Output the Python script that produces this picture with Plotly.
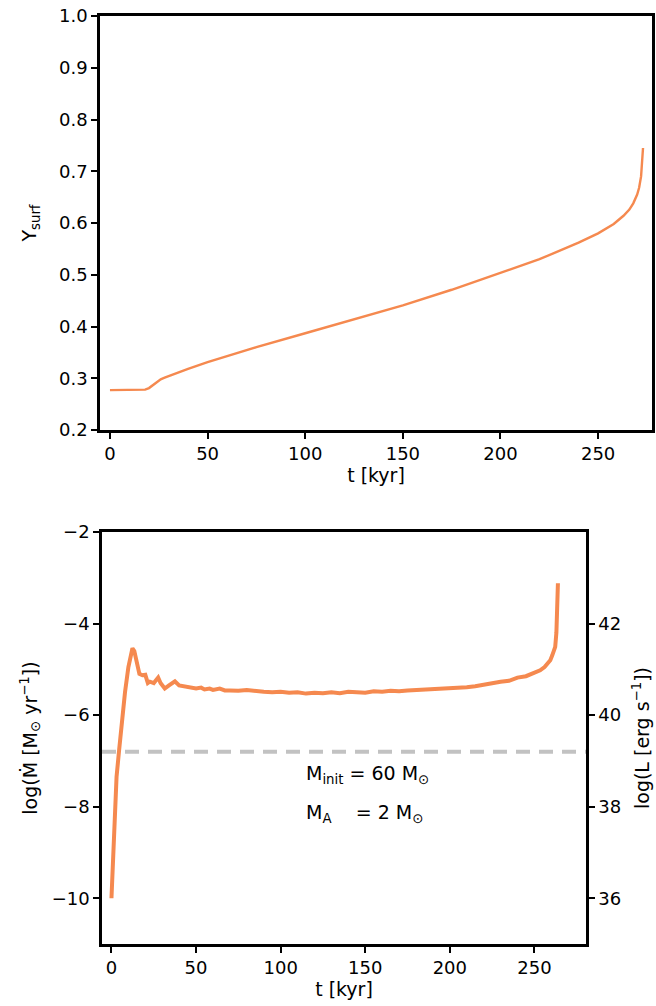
import plotly.graph_objects as go

# ---- data: top panel (surface helium) ----
t_top = [0, 5, 10, 15, 18, 20, 22, 24, 26, 28, 30, 35, 40, 50, 60, 75, 100, 125, 150,
         175, 200, 220, 240, 250, 258, 263, 266, 268, 270, 271, 272, 272.5, 273]
y_surf = [0.277, 0.277, 0.277, 0.277, 0.278, 0.281, 0.287, 0.293, 0.298, 0.301, 0.304,
          0.311, 0.318, 0.331, 0.343, 0.360, 0.387, 0.414, 0.441, 0.471, 0.503, 0.530,
          0.562, 0.580, 0.598, 0.614, 0.626, 0.638, 0.655, 0.668, 0.690, 0.715, 0.745]

# ---- data: bottom panel (mass-loss rate) ----
t_bot = [0, 1, 2, 3, 4.5, 6, 8, 10, 11.5, 12.4, 13.5, 15, 16.5, 18.3, 20, 21.5,
         22.7, 25, 27.6, 29, 31.5, 34, 37.5, 40, 43.4, 47, 50, 53, 55, 58, 60, 64, 67,
         70, 75, 80, 85, 90, 95, 100, 105, 110, 115, 120, 125, 130, 135, 140, 145, 150,
         155, 160, 165, 170, 175, 180, 185, 190, 195, 200, 205, 210, 215, 220, 225, 230,
         235, 240, 245, 250, 253.4, 256, 258, 259.4, 260.5, 261.5, 262.3, 263, 263.5,
         263.9]
log_mdot = [-10.0, -8.9, -8.0, -7.35, -6.77, -6.2, -5.5, -4.95, -4.62, -4.54, -4.6,
            -4.85, -5.1, -5.13, -5.12, -5.3, -5.27, -5.3, -5.18, -5.3, -5.42, -5.35,
            -5.26, -5.35, -5.38, -5.41, -5.42, -5.40, -5.44, -5.42, -5.45, -5.42, -5.46,
            -5.46, -5.47, -5.45, -5.48, -5.49, -5.50, -5.49, -5.51, -5.50, -5.53, -5.51,
            -5.52, -5.50, -5.52, -5.49, -5.50, -5.51, -5.48, -5.49, -5.47, -5.48, -5.46,
            -5.45, -5.46, -5.44, -5.43, -5.42, -5.41, -5.39, -5.37, -5.33, -5.31, -5.27,
            -5.25, -5.18, -5.15, -5.08, -5.02, -4.95, -4.87, -4.80, -4.70, -4.60, -4.51,
            -4.20, -3.80, -3.12]
threshold_mdot = -6.8

y_top_ticks = [0.2, 0.3, 0.4, 0.5, 0.6, 0.7, 0.8, 0.9, 1.0]
x_ticks = [0, 50, 100, 150, 200, 250]
left_ticks = [-10, -8, -6, -4, -2]
left_labels = ["\u221210", "\u22128", "\u22126", "\u22124", "\u22122"]
right_ticks = [36, 38, 40, 42]

ORANGE = "#f5894f"
FONT = "DejaVu Sans"
W, H = 656, 1006

fig = go.Figure()
fig.add_trace(go.Scatter(x=t_top, y=y_surf, mode="lines", xaxis="x", yaxis="y",
                         line=dict(color=ORANGE, width=2.4), showlegend=False))
fig.add_trace(go.Scatter(x=t_bot, y=log_mdot, mode="lines", xaxis="x2", yaxis="y2",
                         line=dict(color=ORANGE, width=4), showlegend=False))
# empty trace so the right-hand axis is drawn
fig.add_trace(go.Scatter(x=[None], y=[None], xaxis="x2", yaxis="y3", mode="lines",
                         showlegend=False, hoverinfo="skip"))

fig.add_shape(type="line", xref="x2 domain", yref="y2", x0=0, x1=1,
              y0=threshold_mdot, y1=threshold_mdot, layer="below",
              line=dict(color="#c2c2c2", width=4, dash="14px,9px"))

axis_common = dict(showline=True, linecolor="black", linewidth=2.5, mirror=True,
                   ticks="outside", ticklen=6, tickwidth=2, tickcolor="black",
                   showgrid=False, zeroline=False, automargin=False,
                   tickfont=dict(family=FONT, size=18, color="black"))

fig.update_layout(
    template="none",
    width=W, height=H, margin=dict(l=0, r=0, t=0, b=0, pad=0),
    paper_bgcolor="white", plot_bgcolor="white",
    font=dict(family=FONT, size=18, color="black"),
    xaxis=dict(axis_common, domain=[100 / W, 652 / W], anchor="y",
               range=[-5.1, 277.6], tickvals=x_ticks,
               title=dict(text="t [kyr]", font=dict(size=19), standoff=6)),
    yaxis=dict(axis_common, domain=[1 - 430 / H, 1 - 16 / H], anchor="x",
               range=[0.2, 1.0], tickvals=y_top_ticks, tickformat=".1f",
               title=dict(text="Y<sub>surf</sub>", font=dict(size=19), standoff=18)),
    xaxis2=dict(axis_common, domain=[102 / W, 586 / W], anchor="y2",
                range=[-5.6, 280.5], tickvals=x_ticks,
                title=dict(text="t [kyr]", font=dict(size=19), standoff=6)),
    yaxis2=dict(axis_common, domain=[1 - 944 / H, 1 - 532 / H], anchor="x2",
                range=[-11, -2], tickvals=left_ticks, ticktext=left_labels,
                title=dict(text="log(\u1E40 [M<sub>\u2299</sub> yr<sup>\u22121</sup>])",
                           font=dict(size=19), standoff=10)),
    yaxis3=dict(axis_common, overlaying="y2", side="right", anchor="x2",
                range=[35, 44], tickvals=right_ticks, mirror=False,
                title=dict(text="log(L [erg s<sup>\u22121</sup>])",
                           font=dict(size=19), standoff=16)),
)

fig.add_annotation(x=114, y=-7.3, xref="x2", yref="y2", xanchor="left", yanchor="middle",
                   text="M<sub>init</sub> = 60 M<sub>\u2299</sub>", showarrow=False,
                   font=dict(family=FONT, size=19, color="black"))
fig.add_annotation(x=114, y=-8.15, xref="x2", yref="y2", xanchor="left", yanchor="middle",
                   text="M<sub>A</sub>&nbsp;&nbsp;&nbsp;&nbsp;= 2 M<sub>\u2299</sub>",
                   showarrow=False, font=dict(family=FONT, size=19, color="black"))

fig.write_html("out.html", config={"displayModeBar": False},
               post_script="document.body.style.margin='0px';"
                           "document.body.style.overflow='hidden';")
